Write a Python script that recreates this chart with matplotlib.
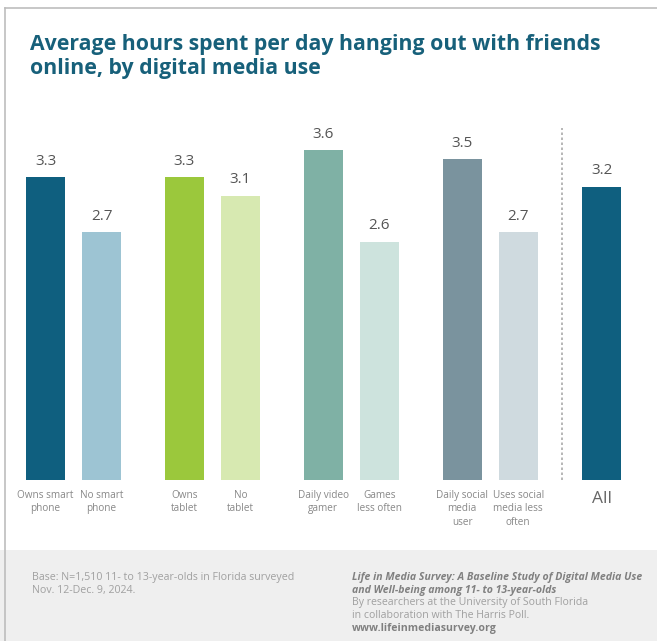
import matplotlib.pyplot as plt
from matplotlib.patches import Rectangle
from matplotlib.lines import Line2D

plt.rcParams['font.family'] = ['Open Sans', 'DejaVu Sans']

TITLE = 'Average hours spent per day hanging out with friends\nonline, by digital media use'

categories = [
    'Owns smart\nphone', 'No smart\nphone',
    'Owns\ntablet', 'No\ntablet',
    'Daily video\ngamer', 'Games\nless often',
    'Daily social\nmedia\nuser', 'Uses social\nmedia less\noften',
    'All',
]
hours = [3.3, 2.7, 3.3, 3.1, 3.6, 2.6, 3.5, 2.7, 3.2]
bar_colors = [
    '#0f5f7f', '#9dc4d3',
    '#9bc83c', '#d7e9b1',
    '#7fb1a5', '#cde3dd',
    '#7a939e', '#cfdadf',
    '#0f5f7f',
]
# bars sit in pairs, the overall bar stands apart behind a dashed divider
positions = [0, 1, 2.48, 3.48, 4.96, 5.96, 7.44, 8.44, 9.93]
divider_pos = 9.22

base_note = 'Base: N=1,510 11- to 13-year-olds in Florida surveyed\nNov. 12-Dec. 9, 2024.'
source_title = ('Life in Media Survey: A Baseline Study of Digital Media Use\n'
                'and Well-being among 11- to 13-year-olds')
source_body = ('By researchers at the University of South Florida\n'
               'in collaboration with The Harris Poll.')
source_url = 'www.lifeinmediasurvey.org'


def main():
    W, H = 657, 641
    fig = plt.figure(figsize=(W / 100, H / 100), dpi=100)
    fig.patch.set_facecolor('white')

    # footer band and thin frame
    fig.patches.append(Rectangle((0, 0), 1, (H - 550) / H, transform=fig.transFigure,
                                 facecolor='#efefef', edgecolor='none', zorder=0))
    fig.add_artist(Line2D([5 / W, 5 / W], [0, (H - 8) / H], color='#bdbdbd', lw=1.2))
    fig.add_artist(Line2D([5 / W, 1], [(H - 8) / H, (H - 8) / H], color='#bdbdbd', lw=1.2))

    fig.text(30 / W, 1 - 34 / H, TITLE, fontsize=15.3, fontweight='bold',
             color='#17607a', va='top', ha='left', linespacing=1.17)

    # bar area: baseline at 480px, 91.7 px per hour
    base_px, top_px = 480, 100
    ax = fig.add_axes([0, (H - base_px) / H, 1, (base_px - top_px) / H])
    ax.set_xlim(-45.5 / 56, (W - 45.5) / 56)
    ax.set_ylim(0, (base_px - top_px) / 91.7)
    ax.axis('off')

    ax.bar(positions, hours, width=0.7, color=bar_colors)
    for x, v, lab in zip(positions, hours, categories):
        ax.annotate(f'{v:.1f}', (x, v), xytext=(0, 6), textcoords='offset points',
                    ha='center', va='bottom', fontsize=11, color='#555555')
        if lab == 'All':
            ax.annotate(lab, (x, 0), xytext=(0, -8), textcoords='offset points',
                        ha='center', va='top', fontsize=12.5, color='#666666')
        else:
            ax.annotate(lab, (x, 0), xytext=(0, -7), textcoords='offset points',
                        ha='center', va='top', fontsize=7.2, color='#888888',
                        linespacing=1.3)

    ax.plot([divider_pos, divider_pos], [0, (base_px - 128) / 91.7], ls=(0, (1.5, 1.5)),
            color='#aaaaaa', lw=1.2, clip_on=False)

    # footer texts
    fig.text(32 / W, 1 - 572 / H, base_note, fontsize=7.7, color='#a0a0a0',
             va='top', ha='left', linespacing=1.2)
    fig.text(352 / W, 1 - 572 / H, source_title, fontsize=7.6, color='#808080',
             style='italic', fontweight='bold', va='top', ha='left', linespacing=1.2)
    fig.text(352 / W, 1 - 597 / H, source_body, fontsize=7.6, color='#a0a0a0',
             va='top', ha='left', linespacing=1.2)
    fig.text(352 / W, 1 - 623 / H, source_url, fontsize=7.6, color='#808080',
             fontweight='bold', va='top', ha='left')

    fig.savefig('out.png', dpi=100)


if __name__ == '__main__':
    main()
